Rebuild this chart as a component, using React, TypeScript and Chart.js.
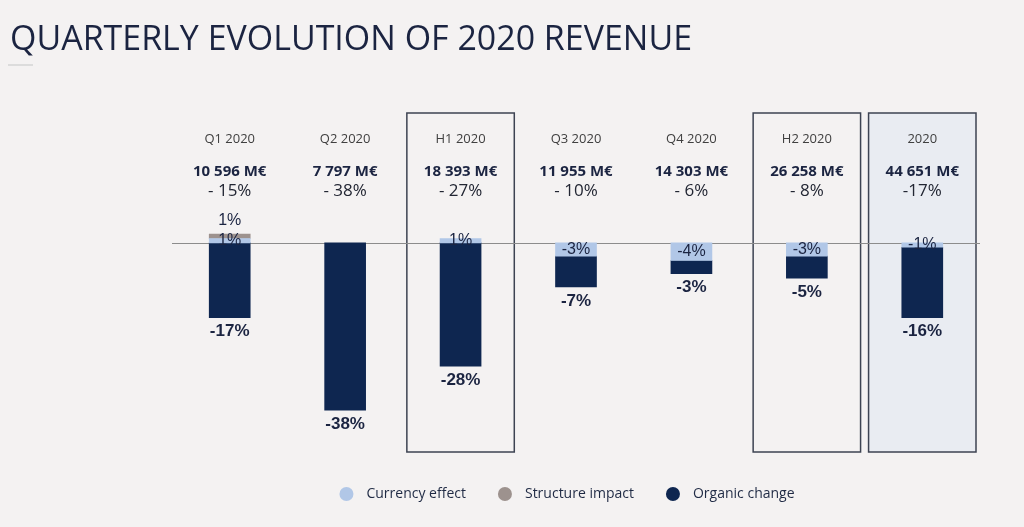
import React, { useEffect, useRef } from 'react';
import { Chart, registerables } from 'chart.js';

Chart.register(...registerables);

const categories = ['Q1 2020', 'Q2 2020', 'H1 2020', 'Q3 2020', 'Q4 2020', 'H2 2020', '2020'];
const revenueLabels = ['10 596 M€', '7 797 M€', '18 393 M€', '11 955 M€', '14 303 M€', '26 258 M€', '44 651 M€'];
const totalChangeLabels = ['- 15%', '- 38%', '- 27%', '- 10%', '- 6%', '- 8%', '-17%'];
const currencyEffect = [1, null, 1, -3, -4, -3, -1];
const structureImpact = [1, null, null, null, null, null, null];
const organicChange = [-17, -38, -28, -7, -3, -5, -16];
const framedColumns = ['H1 2020', 'H2 2020', '2020'];
const shadedColumns = ['2020'];
const titleText = 'QUARTERLY EVOLUTION OF 2020 REVENUE';

const COL_CURRENCY = '#b1c7e7';
const COL_STRUCTURE = '#9d928e';
const COL_ORGANIC = '#0e2650';
const TEXT_DARK = '#1b2441';
const SANS = '"Open Sans", "Noto Sans", sans-serif';
const ARIAL = '"Liberation Sans", Arial, sans-serif';

const pct = (v: number) => `${v}%`;

const overlayPlugin = {
  id: 'overlay',
  beforeDatasetsDraw(chart: any) {
    const { ctx, chartArea, scales } = chart;
    const xs = scales.x;
    const ys = scales.y;
    const step = xs.getPixelForValue(1) - xs.getPixelForValue(0);
    const half = step / 2 - 4;
    ctx.save();
    categories.forEach((c, i) => {
      if (!framedColumns.includes(c)) return;
      const cx = xs.getPixelForValue(i);
      if (shadedColumns.includes(c)) {
        ctx.fillStyle = '#e9ecf2';
        ctx.fillRect(cx - half, chartArea.top, half * 2, chartArea.bottom - chartArea.top);
      }
      ctx.strokeStyle = '#3d4352';
      ctx.lineWidth = 1.5;
      ctx.strokeRect(cx - half, chartArea.top, half * 2, chartArea.bottom - chartArea.top);
    });
    // zero line
    const y0 = Math.round(ys.getPixelForValue(0)) + 0.5;
    ctx.strokeStyle = '#8c8c8c';
    ctx.lineWidth = 1;
    ctx.beginPath();
    ctx.moveTo(chartArea.left, y0);
    ctx.lineTo(chartArea.right, y0);
    ctx.stroke();

    // header texts
    ctx.textAlign = 'center';
    ctx.textBaseline = 'middle';
    categories.forEach((c, i) => {
      const cx = xs.getPixelForValue(i);
      ctx.fillStyle = '#404040';
      ctx.font = `13px ${SANS}`;
      ctx.fillText(c, cx, 139);
      ctx.fillStyle = TEXT_DARK;
      ctx.font = `bold 15px ${SANS}`;
      ctx.fillText(revenueLabels[i], cx, 172);
      ctx.fillStyle = '#222633';
      ctx.font = `17px ${SANS}`;
      ctx.fillText(totalChangeLabels[i], cx, 191);
    });
    ctx.restore();
  },
  afterDatasetsDraw(chart: any) {
    const { ctx } = chart;
    ctx.save();
    ctx.textAlign = 'center';
    ctx.textBaseline = 'middle';
    const cur = chart.getDatasetMeta(0).data;
    const str = chart.getDatasetMeta(1).data;
    const org = chart.getDatasetMeta(2).data;
    categories.forEach((_, i) => {
      const cv = currencyEffect[i];
      if (cv !== null) {
        const el = cur[i];
        ctx.fillStyle = TEXT_DARK;
        ctx.font = `16px ${ARIAL}`;
        ctx.fillText(pct(cv), el.x, (el.y + el.base) / 2);
      }
      const sv = structureImpact[i];
      if (sv !== null) {
        const el = str[i];
        ctx.fillStyle = TEXT_DARK;
        ctx.font = `16px ${ARIAL}`;
        ctx.fillText(pct(sv), el.x, Math.min(el.y, el.base) - 13);
      }
      const ov = organicChange[i];
      if (ov !== null) {
        const el = org[i];
        ctx.fillStyle = TEXT_DARK;
        ctx.font = `bold 17px ${ARIAL}`;
        ctx.fillText(pct(ov), el.x, Math.max(el.y, el.base) + 14);
      }
    });
    ctx.restore();
  },
  afterDraw(chart: any) {
    const { ctx } = chart;
    ctx.save();
    // title
    ctx.fillStyle = TEXT_DARK;
    ctx.textBaseline = 'alphabetic';
    ctx.textAlign = 'left';
    ctx.font = `35px ${SANS}`;
    const w = ctx.measureText(titleText).width;
    const sx = 682 / w;
    ctx.save();
    ctx.translate(10, 50);
    ctx.scale(sx, 1);
    ctx.fillText(titleText, 0, 0);
    ctx.restore();
    ctx.fillStyle = '#dcdcdc';
    ctx.fillRect(8, 64, 25, 2);

    // legend
    ctx.font = `14px ${SANS}`;
    ctx.textBaseline = 'middle';
    const items = chart.data.datasets.map((d: any) => ({ label: d.label, color: d.backgroundColor }));
    const r = 7;
    const gap = 13;
    const spacing = 32;
    const widths = items.map((it: any) => r * 2 + gap + ctx.measureText(it.label).width);
    const total = widths.reduce((a: number, b: number) => a + b, 0) + spacing * (items.length - 1);
    let x = 567 - total / 2;
    const ly = 494;
    items.forEach((it: any, k: number) => {
      ctx.fillStyle = it.color;
      ctx.beginPath();
      ctx.arc(x + r, ly, r, 0, Math.PI * 2);
      ctx.fill();
      ctx.fillStyle = '#1f2a44';
      ctx.fillText(it.label, x + r * 2 + gap, ly);
      x += widths[k] + spacing;
    });
    ctx.restore();
  },
};

export default function App() {
  const ref = useRef<HTMLCanvasElement>(null);
  useEffect(() => {
    if (!ref.current) return;
    const chart = new Chart(ref.current, {
      type: 'bar',
      data: {
        labels: categories,
        datasets: [
          { label: 'Currency effect', data: currencyEffect, backgroundColor: COL_CURRENCY, stack: 's' },
          { label: 'Structure impact', data: structureImpact, backgroundColor: COL_STRUCTURE, stack: 's' },
          { label: 'Organic change', data: organicChange, backgroundColor: COL_ORGANIC, stack: 's' },
        ],
      },
      options: {
        responsive: false,
        animation: false,
        devicePixelRatio: 1,
        layout: { padding: { left: 172, right: 44, top: 113, bottom: 75 } },
        plugins: { legend: { display: false }, title: { display: false }, tooltip: { enabled: false } },
        datasets: { bar: { barThickness: 41 } },
        scales: {
          x: { display: false, stacked: true },
          y: { display: false, stacked: true, min: -47.5, max: 29.5 },
        },
      },
      plugins: [overlayPlugin],
    } as any);
    return () => chart.destroy();
  }, []);
  return (
    <div style={{ position: 'fixed', left: 0, top: 0, width: 1024, height: 527, background: '#f4f2f2' }}>
      <canvas ref={ref} width={1024} height={527} style={{ width: 1024, height: 527, display: 'block' }} />
    </div>
  );
}
